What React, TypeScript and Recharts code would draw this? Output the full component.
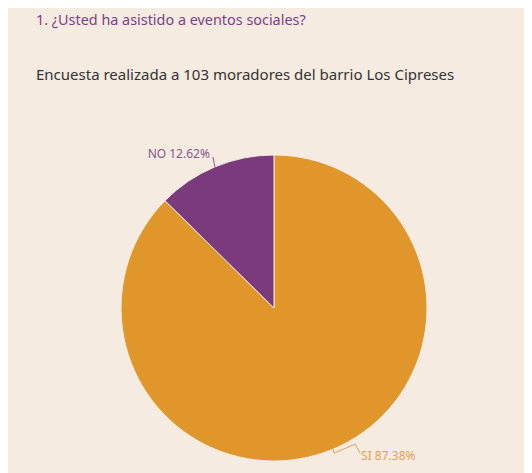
import { PieChart, Pie, Cell } from 'recharts'

const categories = ['SI', 'NO']
const percentages = [87.38, 12.62]

const COLORS = ['#e0962a', '#7b3a7c']
const LABEL_COLORS = ['#e4a254', '#87578f']

const data = categories.map((name, i) => ({ name, value: percentages[i] }))

const RADIAN = Math.PI / 180

// leader line + text, both placed from the slice's mid angle
function renderLabel(props: any) {
  const { cx, cy, midAngle, outerRadius, index } = props
  const cos = Math.cos(-midAngle * RADIAN)
  const sin = Math.sin(-midAngle * RADIAN)
  const x0 = cx + outerRadius * cos
  const y0 = cy + outerRadius * sin
  const color = LABEL_COLORS[index]
  const text = `${categories[index]} ${percentages[index].toFixed(2)}%`
  if (sin > 0) {
    // bottom label, bent line
    const pts = `${x0},${y0} ${x0 + 1},${y0 + 4} ${x0 + 22},${y0 - 5} ${x0 + 27},${y0 + 4}`
    return (
      <g>
        <polyline points={pts} fill="none" stroke={color} strokeWidth={1} />
        <text x={x0 + 28} y={y0 + 6} fill={color} fontSize={12} textAnchor="start" dominantBaseline="central">
          {text}
        </text>
      </g>
    )
  }
  const x1 = x0 - 2
  const y1 = y0 - 10
  return (
    <g>
      <polyline points={`${x0},${y0} ${x1},${y1}`} fill="none" stroke={color} strokeWidth={1} />
      <text x={x1 - 3} y={y1 - 3} fill={color} fontSize={12} textAnchor="end" dominantBaseline="central">
        {text}
      </text>
    </g>
  )
}

export default function App() {
  return (
    <div
      style={{
        position: 'relative',
        width: 522,
        height: 466,
        background: '#f5ebe0',
        fontFamily: '"Noto Sans", sans-serif',
        overflow: 'hidden',
      }}
    >
      <div style={{ position: 'absolute', left: 28, top: 2, fontSize: 14.4, color: '#7b3f8a' }}>
        1. ¿Usted ha asistido a eventos sociales?
      </div>
      <div style={{ position: 'absolute', left: 28, top: 56, fontSize: 15, color: '#333333' }}>
        Encuesta realizada a 103 moradores del barrio Los Cipreses
      </div>
      <div style={{ position: 'absolute', left: 0, top: 0 }}>
        <PieChart width={522} height={466}>
          <Pie
            data={data}
            dataKey="value"
            nameKey="name"
            cx={261}
            cy={295}
            outerRadius={153}
            startAngle={90}
            endAngle={-270}
            stroke="#f5ebe0"
            strokeWidth={1}
            label={renderLabel}
            labelLine={false}
            isAnimationActive={false}
          >
            {data.map((_entry, index) => (
              <Cell key={`cell-${index}`} fill={COLORS[index]} />
            ))}
          </Pie>
        </PieChart>
      </div>
    </div>
  )
}
